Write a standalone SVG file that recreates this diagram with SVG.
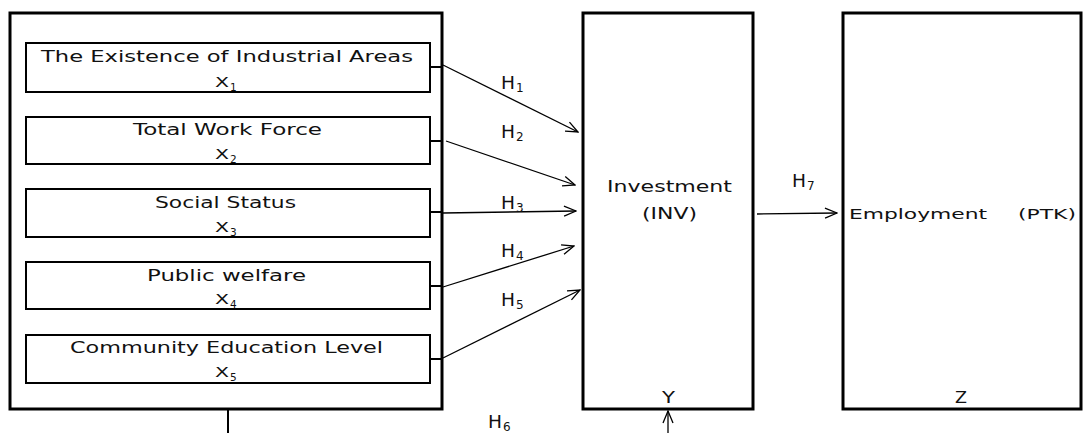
<svg xmlns="http://www.w3.org/2000/svg" width="1085" height="433" viewBox="0 0 1085 433">
<style>
text{font-family:"DejaVu Sans","Liberation Sans",sans-serif;fill:#111;}
.big{font-size:16px;}
.mid{font-size:14.5px;}
.inv{font-size:15.5px;}
.hl{font-size:17px;}
.sub{font-size:10.5px;}
.hsub{font-size:12px;}
.outer{fill:none;stroke:#000;stroke-width:3;}
.inner{fill:none;stroke:#000;stroke-width:2;}
.con{fill:none;stroke:#000;stroke-width:1.3;}
.stub{fill:none;stroke:#000;stroke-width:2;}
</style>
<defs>
<marker id="arr" viewBox="0 0 14 12" refX="13" refY="6" markerWidth="14" markerHeight="12" markerUnits="userSpaceOnUse" orient="auto">
<path d="M1,1 L13,6 L1,11" fill="none" stroke="#000" stroke-width="1.3"/>
</marker>
</defs>
<rect width="1085" height="433" fill="#fff"/>
<g id="outer-box"><rect class="outer" x="10" y="13" width="432" height="396"/></g>
<g id="x1">
<rect class="inner" x="26" y="43" width="404" height="49"/>
<text class="big" x="41" y="62" textLength="372" lengthAdjust="spacingAndGlyphs">The Existence of Industrial Areas</text>
<text class="mid" x="215" y="87" textLength="14" lengthAdjust="spacingAndGlyphs">X</text><text class="sub" x="230" y="91">1</text>
</g>
<g id="x2">
<rect class="inner" x="26" y="117" width="404" height="47"/>
<text class="big" x="133" y="135" textLength="189" lengthAdjust="spacingAndGlyphs">Total Work Force</text>
<text class="mid" x="215" y="159" textLength="14" lengthAdjust="spacingAndGlyphs">X</text><text class="sub" x="230" y="163">2</text>
</g>
<g id="x3">
<rect class="inner" x="26" y="189" width="404" height="48"/>
<text class="big" x="155" y="208" textLength="141" lengthAdjust="spacingAndGlyphs">Social Status</text>
<text class="mid" x="215" y="232" textLength="14" lengthAdjust="spacingAndGlyphs">X</text><text class="sub" x="230" y="236">3</text>
</g>
<g id="x4">
<rect class="inner" x="26" y="262" width="404" height="47"/>
<text class="big" x="147" y="281" textLength="159" lengthAdjust="spacingAndGlyphs">Public welfare</text>
<text class="mid" x="215" y="304" textLength="14" lengthAdjust="spacingAndGlyphs">X</text><text class="sub" x="230" y="308">4</text>
</g>
<g id="x5">
<rect class="inner" x="26" y="335" width="404" height="48"/>
<text class="big" x="70" y="353" textLength="313" lengthAdjust="spacingAndGlyphs">Community Education Level</text>
<text class="mid" x="215" y="377" textLength="14" lengthAdjust="spacingAndGlyphs">X</text><text class="sub" x="230" y="381">5</text>
</g>
<g id="investment">
<rect class="outer" x="583" y="13" width="170" height="396"/>
<text class="inv" x="607" y="192" textLength="125" lengthAdjust="spacingAndGlyphs">Investment</text>
<text class="inv" x="642" y="219" textLength="55" lengthAdjust="spacingAndGlyphs">(INV)</text>
<text class="inv" x="662" y="403" textLength="13" lengthAdjust="spacingAndGlyphs">Y</text>
</g>
<g id="employment">
<rect class="outer" x="843" y="13" width="238" height="396"/>
<text class="mid" x="849" y="219" textLength="138" lengthAdjust="spacingAndGlyphs">Employment</text>
<text class="mid" x="1018" y="219" textLength="58" lengthAdjust="spacingAndGlyphs">(PTK)</text>
<text class="inv" x="955" y="403" textLength="12" lengthAdjust="spacingAndGlyphs">Z</text>
</g>
<g id="connectors">
<line class="stub" x1="430" y1="67" x2="443" y2="67"/>
<line class="stub" x1="430" y1="141" x2="443" y2="141"/>
<line class="stub" x1="430" y1="212" x2="443" y2="212"/>
<line class="stub" x1="430" y1="286" x2="443" y2="286"/>
<line class="stub" x1="430" y1="359" x2="443" y2="359"/>
<line class="con" x1="443" y1="65" x2="578" y2="132" marker-end="url(#arr)"/>
<line class="con" x1="446" y1="141" x2="575" y2="185" marker-end="url(#arr)"/>
<line class="con" x1="443" y1="213" x2="576" y2="211" marker-end="url(#arr)"/>
<line class="con" x1="443" y1="287" x2="574" y2="246" marker-end="url(#arr)"/>
<line class="con" x1="443" y1="358" x2="580" y2="290" marker-end="url(#arr)"/>
<line class="con" x1="757" y1="214" x2="837" y2="213" marker-end="url(#arr)"/>
<line class="stub" x1="228" y1="410" x2="228" y2="433"/>
<line class="con" x1="668" y1="433" x2="668" y2="411" marker-end="url(#arr)"/>
<text class="hl" x="501" y="89" textLength="14" lengthAdjust="spacingAndGlyphs">H</text><text class="hsub" x="516" y="92">1</text>
<text class="hl" x="501" y="138" textLength="14" lengthAdjust="spacingAndGlyphs">H</text><text class="hsub" x="516" y="141">2</text>
<text class="hl" x="501" y="209" textLength="14" lengthAdjust="spacingAndGlyphs">H</text><text class="hsub" x="516" y="212">3</text>
<text class="hl" x="501" y="257" textLength="14" lengthAdjust="spacingAndGlyphs">H</text><text class="hsub" x="516" y="260">4</text>
<text class="hl" x="501" y="306" textLength="14" lengthAdjust="spacingAndGlyphs">H</text><text class="hsub" x="516" y="309">5</text>
<text class="hl" x="488" y="428" textLength="14" lengthAdjust="spacingAndGlyphs">H</text><text class="hsub" x="503" y="431">6</text>
<text class="hl" x="792" y="187" textLength="14" lengthAdjust="spacingAndGlyphs">H</text><text class="hsub" x="807" y="190">7</text>
</g>
</svg>
